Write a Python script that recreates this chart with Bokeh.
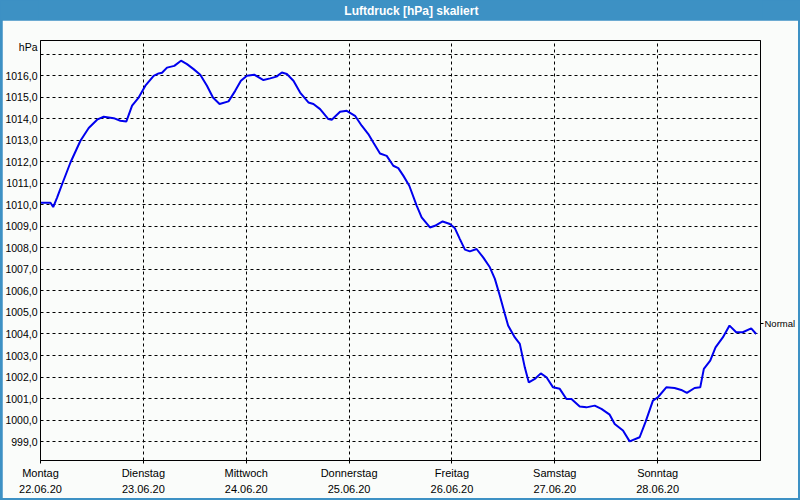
from bokeh.plotting import figure
from bokeh.layouts import column
from bokeh.models import FixedTicker, LinearAxis, Label
from bokeh.embed import file_html
from bokeh.resources import INLINE

# ---- data ----
hours = [0.0, 2.33, 2.96, 3.89, 5.06, 6.99, 9.32, 11.25, 13.21, 14.75, 17.08, 18.64, 20.04,
         21.37, 22.9, 24.47, 26.4, 27.56, 28.36, 29.52, 31.22, 32.78, 34.18, 35.72, 37.28,
         38.84, 40.24, 41.78, 43.87, 45.43, 46.76, 48.16, 49.86, 52.03, 53.59, 55.06, 56.32,
         57.48, 59.02, 60.58, 62.51, 63.68, 65.24, 67.17, 67.96, 69.9, 71.46, 73.39, 74.95,
         76.49, 77.66, 79.22, 80.78, 82.32, 83.48, 84.65, 86.05, 87.77, 88.93, 90.87, 92.04,
         93.83, 95.53, 96.7, 97.86, 99.03, 100.19, 101.75, 103.29, 104.85, 106.02, 107.18,
         108.35, 109.11, 110.68, 111.84, 113.0, 113.94, 115.34, 116.73, 118.06, 119.6, 121.16,
         122.72, 123.89, 125.82, 127.38, 129.32, 130.88, 132.81, 133.98, 135.91, 137.47, 139.8,
         141.2, 142.9, 144.06, 146.02, 147.95, 149.51, 150.82, 152.62, 153.94, 154.78, 156.27,
         157.51, 159.21, 160.77, 162.33, 163.87, 165.83, 166.99]
hpa = [1010.1, 1010.1, 1009.9, 1010.35, 1010.97, 1011.97, 1012.98, 1013.57, 1013.96, 1014.1,
       1014.03, 1013.91, 1013.88, 1014.61, 1014.99, 1015.54, 1016.0, 1016.11, 1016.14, 1016.38,
       1016.46, 1016.7, 1016.54, 1016.31, 1016.05, 1015.54, 1014.99, 1014.69, 1014.81, 1015.3,
       1015.77, 1016.0, 1016.05, 1015.8, 1015.88, 1015.96, 1016.15, 1016.08, 1015.77, 1015.22,
       1014.76, 1014.69, 1014.45, 1013.99, 1013.96, 1014.33, 1014.37, 1014.14, 1013.68, 1013.29,
       1012.9, 1012.39, 1012.28, 1011.82, 1011.71, 1011.36, 1010.89, 1009.97, 1009.42, 1008.95,
       1009.03, 1009.23, 1009.11, 1008.91, 1008.41, 1007.92, 1007.84, 1007.95, 1007.56, 1007.1,
       1006.56, 1005.78, 1004.93, 1004.39, 1003.84, 1003.54, 1002.45, 1001.75, 1001.91, 1002.17,
       1001.99, 1001.52, 1001.45, 1000.98, 1000.98, 1000.63, 1000.59, 1000.67, 1000.52, 1000.25,
       999.82, 999.51, 999.01, 999.2, 999.93, 1000.9, 1001.06, 1001.52, 1001.49, 1001.4,
       1001.26, 1001.49, 1001.52, 1002.38, 1002.76, 1003.38, 1003.84, 1004.39, 1004.08,
       1004.08, 1004.26, 1004.0]
day_names = ["Montag", "Dienstag", "Mittwoch", "Donnerstag", "Freitag", "Samstag", "Sonntag"]
day_dates = ["22.06.20", "23.06.20", "24.06.20", "25.06.20", "26.06.20", "27.06.20", "28.06.20"]
day_hours = [0, 24, 48, 72, 96, 120, 144]
y_ticks = list(range(999, 1018))
unit_level = 1017.35
normal_level = 1004.5
title_text = "Luftdruck [hPa] skaliert"
unit_text = "hPa"
normal_text = "Normal"

# ---- styles ----
BG = "#FAFCFA"
BLUE = "#3D91C4"
FONT = "Liberation Sans"

# title bar
t = figure(width=800, height=20, output_backend="svg", toolbar_location=None,
           x_range=(0, 800), y_range=(0, 20), min_border=0,
           background_fill_color=BLUE, border_fill_color=BLUE, outline_line_color=None)
t.axis.visible = False
t.grid.visible = False
t.add_layout(Label(x=412, y=10, text=title_text, text_color="white", text_font=FONT,
                   text_font_size="12px", text_font_style="bold",
                   text_align="center", text_baseline="middle"))

# main chart
p = figure(width=796, height=478, output_backend="svg", toolbar_location=None,
           x_range=(0, 168), y_range=(998.12, 1017.64),
           min_border_left=38, min_border_right=38, min_border_top=20, min_border_bottom=38,
           background_fill_color=BG, border_fill_color=BG,
           outline_line_color="black", outline_line_width=1)
p.margin = (0, 2, 2, 2)

p.line(hours, hpa, line_color="#0000EE", line_width=2)

# x axis
xa = p.xaxis[0]
xa.ticker = FixedTicker(ticks=day_hours)
xa.major_label_overrides = {h: f"{n}\n{d}" for h, n, d in zip(day_hours, day_names, day_dates)}
xa.major_tick_in = 0
xa.major_tick_out = 3
xa.minor_tick_out = 0
xa.minor_tick_in = 0
xa.major_label_standoff = 3
xa.axis_label_standoff = 0
xa.major_label_text_font = FONT
xa.major_label_text_font_size = "11px"
xa.major_label_text_color = "black"
xa.major_label_text_line_height = 1.35
xa.axis_line_color = "black"
xa.major_tick_line_color = "black"

# y axis (labels 999,0 .. 1016,0 and the unit at the top)
label_ticks = y_ticks[:-1] + [unit_level]
ya = p.yaxis[0]
ya.ticker = FixedTicker(ticks=label_ticks)
overrides = {tv: f"{tv},0" for tv in y_ticks[:-1]}
overrides[unit_level] = unit_text
ya.major_label_overrides = overrides
ya.major_tick_in = 0
ya.major_tick_out = 0
ya.minor_tick_in = 0
ya.minor_tick_out = 0
ya.major_label_standoff = 3
ya.axis_label_standoff = 0
ya.major_label_text_font = FONT
ya.major_label_text_font_size = "10.5px"
ya.major_label_text_color = "black"
ya.axis_line_color = "black"

# right axis with "Normal"
ra = LinearAxis(ticker=FixedTicker(ticks=[normal_level]),
                major_label_overrides={normal_level: normal_text},
                major_tick_in=0, major_tick_out=3, minor_tick_in=0, minor_tick_out=0,
                major_label_standoff=1, axis_label_standoff=0, major_label_text_font=FONT,
                major_label_text_font_size="9.5px", major_label_text_color="black",
                axis_line_color="black", major_tick_line_color="black")
p.add_layout(ra, "right")

# grids
p.xgrid.ticker = FixedTicker(ticks=day_hours)
p.ygrid.ticker = FixedTicker(ticks=y_ticks)
for g in (p.xgrid[0], p.ygrid[0]):
    g.grid_line_color = "black"
    g.grid_line_dash = "3 3"
    g.grid_line_width = 1

layout = column(t, p, width=800, height=500, spacing=0,
                styles={"background-color": BLUE})

open("out.html", "w").write(file_html(layout, INLINE))
